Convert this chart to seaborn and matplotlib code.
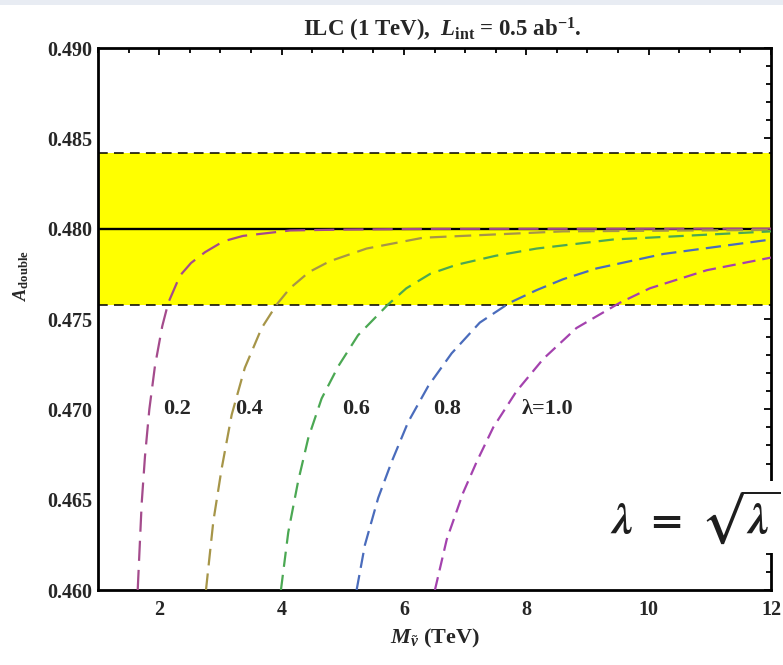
import matplotlib
matplotlib.use("Agg")
import matplotlib.pyplot as plt
import numpy as np
import pandas as pd
import seaborn as sns
from matplotlib.ticker import MultipleLocator, FixedLocator
from matplotlib.patches import Rectangle

# ---------------- data ----------------
lam_labels = ["0.2", "0.4", "0.6", "0.8", "1.0"]

m_02 = [1.649, 1.714, 1.768, 1.839, 1.931, 2.05, 2.149, 2.34, 2.52, 2.75, 3.05, 3.37, 4.14, 5.0, 6.5, 12.0]
a_02 = [0.4600, 0.4648, 0.4674, 0.4700, 0.4724, 0.4746, 0.4759, 0.4774, 0.4781, 0.4787, 0.4793, 0.4796, 0.4799, 0.47995, 0.47999, 0.4800]

m_04 = [2.765, 2.885, 3.02, 3.185, 3.40, 3.675, 3.92, 4.137, 4.45, 4.79, 5.39, 6.315, 8.6, 12.0]
a_04 = [0.4600, 0.4638, 0.4667, 0.4697, 0.4723, 0.4745, 0.4758, 0.4767, 0.4776, 0.4782, 0.4789, 0.4795, 0.47985, 0.47993]

m_06 = [3.99, 4.11, 4.27, 4.436, 4.655, 4.93, 5.25, 5.74, 6.04, 6.43, 6.86, 7.5, 8.17, 9.42, 12.0]
a_06 = [0.4600, 0.4632, 0.4660, 0.4684, 0.4706, 0.4724, 0.4741, 0.4758, 0.4767, 0.4775, 0.4780, 0.4785, 0.4789, 0.4794, 0.47985]

m_08 = [5.227, 5.363, 5.58, 5.80, 6.07, 6.40, 6.78, 7.24, 7.73, 8.17, 8.60, 9.15, 10.24, 12.0]
a_08 = [0.4600, 0.4625, 0.4651, 0.4671, 0.4693, 0.4713, 0.4731, 0.4748, 0.4759, 0.4766, 0.4772, 0.4778, 0.4786, 0.4794]

m_10 = [6.507, 6.70, 6.97, 7.19, 7.46, 7.84, 8.28, 8.82, 9.53, 10.02, 10.95, 12.0]
a_10 = [0.4600, 0.4628, 0.4654, 0.4671, 0.4690, 0.4710, 0.4728, 0.4745, 0.4759, 0.4767, 0.4777, 0.4784]

band_low = 0.4758
band_high = 0.4842
sm_value = 0.4800

curve_label_text = ["0.2", "0.4", "0.6", "0.8", "\u03bb=1.0"]
curve_label_x = [2.06, 3.24, 4.99, 6.47, 7.93]
curve_label_y = [0.4700, 0.4700, 0.4700, 0.4700, 0.4700]

x_ticks = [2, 4, 6, 8, 10, 12]
y_ticks = [0.460, 0.465, 0.470, 0.475, 0.480, 0.485, 0.490]

# ---------------- styling ----------------
sns.set_style("white")
plt.rcParams["font.family"] = ["Liberation Serif", "DejaVu Serif"]
plt.rcParams["font.weight"] = "bold"
plt.rcParams["mathtext.fontset"] = "custom"
plt.rcParams["mathtext.rm"] = "Liberation Serif:bold"
plt.rcParams["mathtext.bf"] = "Liberation Serif:bold"
plt.rcParams["mathtext.it"] = "Liberation Serif:italic:bold"
plt.rcParams["lines.scale_dashes"] = False

colors = ["#a44b8c", "#a69548", "#4ba853", "#4a6cbc", "#a442ae"]
dash_styles = [(14.5, 6.5), (12, 5.8), (11, 5.8), (11, 5.2), (9.5, 5.0)]

frames = []
for lab, m, a in zip(lam_labels,
                     [m_02, m_04, m_06, m_08, m_10],
                     [a_02, a_04, a_06, a_08, a_10]):
    frames.append(pd.DataFrame({"M": m, "A": a, "lam": lab}))
df = pd.concat(frames, ignore_index=True)

fig = plt.figure(figsize=(7.83, 6.65), dpi=100)
ax = fig.add_axes([98 / 783, 1 - 590 / 665, (771 - 98) / 783, (590 - 48) / 665])

# band and reference line
ax.axhspan(band_low, band_high, color="#ffff00", lw=0, zorder=1)
for yb in (band_low, band_high):
    ax.axhline(yb, color="black", lw=1.1, linestyle=(0, (7, 4.5)), zorder=2)
ax.axhline(sm_value, color="black", lw=1.7, zorder=2.5)

sns.lineplot(data=df, x="M", y="A", hue="lam", style="lam",
             palette=dict(zip(lam_labels, colors)),
             dashes=dict(zip(lam_labels, dash_styles)),
             sort=False, estimator=None, legend=False,
             linewidth=1.6, ax=ax, zorder=3)

for t, xx, yy in zip(curve_label_text, curve_label_x, curve_label_y):
    ax.text(xx, yy, t, fontsize=16, fontweight="bold", ha="left", va="center", zorder=4)

ax.set_xlim(1, 12)
ax.set_ylim(0.460, 0.490)
ax.xaxis.set_major_locator(FixedLocator(x_ticks))
ax.xaxis.set_minor_locator(MultipleLocator(0.5))
ax.yaxis.set_major_locator(FixedLocator(y_ticks))
ax.yaxis.set_minor_locator(MultipleLocator(0.001))
ax.set_xticklabels([str(v) for v in x_ticks])
ax.set_yticklabels(["%.3f" % v for v in y_ticks])

ax.tick_params(axis="both", which="both", direction="in", top=True, right=True,
               color="black", width=1.3)
ax.tick_params(axis="both", which="major", length=5, labelsize=14.5)
ax.tick_params(axis="both", which="minor", length=3.5)
ax.tick_params(axis="x", which="major", pad=7)
ax.tick_params(axis="y", which="major", pad=4)
for lab in ax.get_xticklabels() + ax.get_yticklabels():
    lab.set_fontweight("bold")

for s in ax.spines.values():
    s.set_visible(True)
    s.set_color("black")
    s.set_linewidth(2.0)

ax.set_title(r"ILC (1 TeV),  $L_{\mathrm{int}}$ = 0.5 ab$^{\mathbf{-1}}$.",
             fontsize=16.5, fontweight="bold", pad=8, x=0.512)
ax.set_xlabel(r"$M_{\tilde{\nu}}$ (TeV)", fontsize=16, fontweight="bold", labelpad=5)
ax.set_ylabel(r"$A_{\mathrm{double}}$", fontsize=13, fontweight="bold")
ax.yaxis.set_label_coords(-0.100, 0.58)

# top strip of the screenshot
fig.patches.append(Rectangle((0, 1 - 5 / 665), 1, 5 / 665, transform=fig.transFigure,
                             facecolor="#e8ecf3", edgecolor="none", zorder=0))

# overlaid formula fragment (clipped at the right edge)
fig.text(610 / 783, 1 - 533 / 665, r"$\lambda\ =\ \sqrt{\lambda\,}$", fontsize=31,
         fontweight="normal", math_fontfamily="stix", ha="left", va="baseline",
         color="#1e1e1e",
         bbox=dict(facecolor="white", edgecolor="none", pad=5), zorder=10)

fig.savefig("out.png", dpi=100)
